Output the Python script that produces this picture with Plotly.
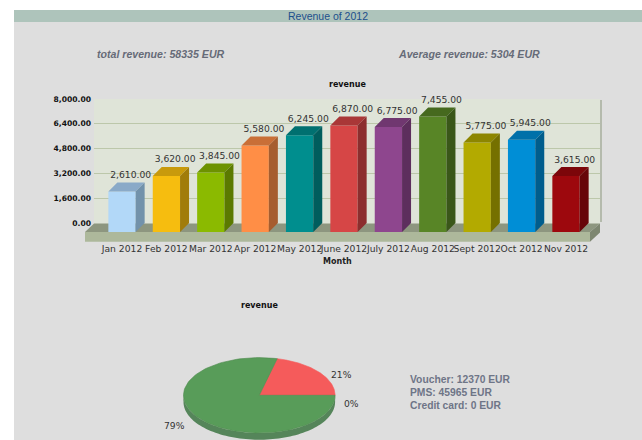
import math
import numpy as np
import plotly.graph_objects as go

months = ["Jan 2012","Feb 2012","Mar 2012","Apr 2012","May 2012","June 2012","July 2012","Aug 2012","Sept 2012","Oct 2012","Nov 2012"]
revenue = [2610,3620,3845,5580,6245,6870,6775,7455,5775,5945,3615]
front = ["#b2d8f8","#f6bd0f","#8bba00","#ff8e46","#008e8e","#d64646","#8e468e","#588526","#b3aa00","#008ed6","#9d080d"]
top = ["#8aaac8","#c89a0c","#6d9200","#c96f37","#007070","#a93737","#703770","#46691e","#8d8600","#0070a9","#7c060a"]
side = ["#7292ab","#a17c0a","#5b7a00","#a65d2e","#005d5d","#8c2e2e","#5d2e5d","#3a5719","#757000","#005d8c","#670509"]
y_ticks = [0,1600,3200,4800,6400,8000]
pie_names = ["Voucher","PMS","Credit card"]
pie_values = [12370,45965,0]
pie_colors = ["#f55b5b","#589c59","#f6bd0f"]
pie_pct = ["21%","79%","0%"]

W,H = 642,440
PX_X = 44.4     # px per month
PX_V = 124/8000 # px per EUR
X0 = 122        # px of first bar centre
Y0 = 232        # px of value 0
DEPTH = 9
BAR = 27.3

def px(x): return x/W
def py(y): return 1-y/H
def poly(points):
    return "M"+" L".join(f"{px(x):.5f},{py(y):.5f}" for x,y in points)+" Z"

SANS = "DejaVu Sans"
ARIAL = "Liberation Sans"

shapes = []
def rect(x0,y0,x1,y1,color):
    shapes.append(dict(type="rect",xref="paper",yref="paper",layer="below",x0=px(x0),x1=px(x1),y0=py(y1),y1=py(y0),fillcolor=color,line_width=0))
def path(points,color):
    shapes.append(dict(type="path",xref="paper",yref="paper",layer="below",path=poly(points),fillcolor=color,line_width=0))

rect(0,0,W,10,"#ffffff")
rect(0,0,14,H,"#ffffff")
rect(14,10,W,22,"#aec4bb")
rect(600,100,602,222,"#b4baac")
rect(94,99,600,224,"#dfe4d8")
path([(85,232),(94,223.5),(600,223.5),(590,232)],"#8d967f")
rect(85,232,590,241.7,"#adb89b")
path([(590,232),(600,223.5),(600,232.5),(590,241.7)],"#7d8670")

fig = go.Figure()

# back wall axes: grid + tick labels
fig.add_trace(go.Scatter(x=[0,1],y=[0,8000],mode="markers",marker_opacity=0,showlegend=False,hoverinfo="skip",xaxis="x",yaxis="y"))

# bars, front plane
x_idx = list(range(len(months)))
fig.add_trace(go.Bar(x=x_idx,y=revenue,width=BAR/PX_X,marker=dict(color=front,line_width=0),showlegend=False,hoverinfo="x+y",xaxis="x2",yaxis="y2"))
dx = DEPTH/PX_X; dv = DEPTH/PX_V; hw = BAR/PX_X/2
for i,v in enumerate(revenue):
    fig.add_trace(go.Scatter(x=[i-hw,i+hw,i+hw+dx,i-hw+dx,i-hw],y=[v,v,v+dv,v+dv,v],fill="toself",fillcolor=top[i],mode="none",showlegend=False,hoverinfo="skip",xaxis="x2",yaxis="y2"))
    fig.add_trace(go.Scatter(x=[i+hw,i+hw+dx,i+hw+dx,i+hw,i+hw],y=[0,dv,v+dv,v,0],fill="toself",fillcolor=side[i],mode="none",showlegend=False,hoverinfo="skip",xaxis="x2",yaxis="y2"))
fig.add_trace(go.Scatter(x=[i+8.7/PX_X for i in x_idx],y=[v+15.7/PX_V for v in revenue],mode="text",
    text=[f"{v:,.2f}" for v in revenue],textposition="middle center",textfont=dict(family=SANS,size=9.2,color="#333333"),
    cliponaxis=False,showlegend=False,hoverinfo="skip",xaxis="x2",yaxis="y2"))

# flattened 3D pie, built from the values
CX,CY,RX,RY,PD = 259.3,395.3,75.8,37.7,6.7
total = sum(pie_values)
fr = np.cumsum([0]+pie_values)/total*2*np.pi
t = np.linspace(0,np.pi,80)
fig.add_trace(go.Scatter(x=list(CX+RX*np.cos(t))+list(CX+RX*np.cos(t[::-1])),
    y=list(CY+RY*np.sin(t)+PD)+list(CY+RY*np.sin(t[::-1])),
    fill="toself",fillcolor="#55855a",mode="none",showlegend=False,hoverinfo="skip",xaxis="x3",yaxis="y3"))
# first slice runs anticlockwise from 3 o'clock; the next one fills the remainder
for k,(name,col) in enumerate(zip(pie_names,pie_colors)):
    if pie_values[k]==0: continue
    a = np.linspace(fr[k],fr[k+1],120)
    fig.add_trace(go.Scatter(x=[CX]+list(CX+RX*np.cos(a))+[CX],y=[CY]+list(CY-RY*np.sin(a))+[CY],
        fill="toself",fillcolor=col,mode="lines",line=dict(color="#4d8a4e" if k==1 else col,width=0.6),
        name=name,showlegend=False,hoverinfo="name",xaxis="x3",yaxis="y3"))

def note(text,x,y,size,color,family=ARIAL,anchor="center"):
    return dict(text=text,x=px(x),y=py(y),xref="paper",yref="paper",showarrow=False,xanchor=anchor,yanchor="middle",
                font=dict(family=family,size=size,color=color),borderpad=0,borderwidth=0)
notes = [
    note("Revenue of 2012",327.5,16,10.5,"#1c4f8c"),
    note(f"<b><i>total revenue: {sum(revenue)} EUR</i></b>",161,54,10.6,"#666b78"),
    note(f"<b><i>Average revenue: {math.ceil(sum(revenue)/len(revenue))} EUR</i></b>",469,54,10.6,"#666b78"),
    note("<b>revenue</b>",348,84,8,"#111111",SANS),
    note("<b>Month</b>",337,261.5,8,"#222222",SANS),
    note("<b>revenue</b>",259,305,8,"#111111",SANS),
    note(pie_pct[0],341,374,9.2,"#333333",SANS),
    note(pie_pct[2],352,403.5,9.2,"#333333",SANS),
    note(pie_pct[1],175,425.5,9.2,"#333333",SANS),
]
for i,(n,v) in enumerate(zip(pie_names,pie_values)):
    notes.append(note(f"<b>{n}: {v} EUR</b>",410,379+13*i,10.3,"#6e7587",anchor="left"))

X_L,X_R = 85,602
Y_T,Y_B = 90,241.7
layout_x2 = [(X_L-X0)/PX_X,(X_R-X0)/PX_X]
layout_y2 = [(Y0-Y_B)/PX_V,(Y0-Y_T)/PX_V]

fig.update_layout(
    width=W,height=H,autosize=False,margin=dict(l=0,r=0,t=0,b=0,pad=0,autoexpand=False),
    paper_bgcolor="#dedede",plot_bgcolor="rgba(0,0,0,0)",showlegend=False,barmode="overlay",
    shapes=shapes,annotations=notes,
    xaxis=dict(domain=[px(94),px(600)],range=[0,1],visible=False,fixedrange=True,automargin=False),
    yaxis=dict(domain=[py(223),py(99)],range=[0,8000],tickvals=y_ticks,tickformat=",.2f",automargin=False,
        ticks="",showline=False,zeroline=False,showgrid=True,gridcolor="#bcc7aa",gridwidth=1.2,
        tickfont=dict(family=SANS,size=7.6,color="#111111",weight="bold"),anchor="x",ticklabelstandoff=2,fixedrange=True),
    xaxis2=dict(domain=[px(X_L),px(X_R)],range=layout_x2,tickmode="array",tickvals=x_idx,ticktext=months,tickangle=0,automargin=False,
        tickfont=dict(family=SANS,size=9.2,color="#333333"),ticks="",showline=False,showgrid=False,zeroline=False,anchor="y2",fixedrange=True),
    yaxis2=dict(domain=[py(Y_B),py(Y_T)],range=layout_y2,visible=False,anchor="x2",fixedrange=True,automargin=False),
    xaxis3=dict(domain=[0,1],range=[0,W],visible=False,anchor="y3",fixedrange=True,automargin=False),
    yaxis3=dict(domain=[0,1],range=[H,0],visible=False,anchor="x3",fixedrange=True,automargin=False),
)
fig.write_html("out.html",config={"displayModeBar":False},
    post_script="document.body.style.margin='0';document.body.style.overflow='hidden';")
